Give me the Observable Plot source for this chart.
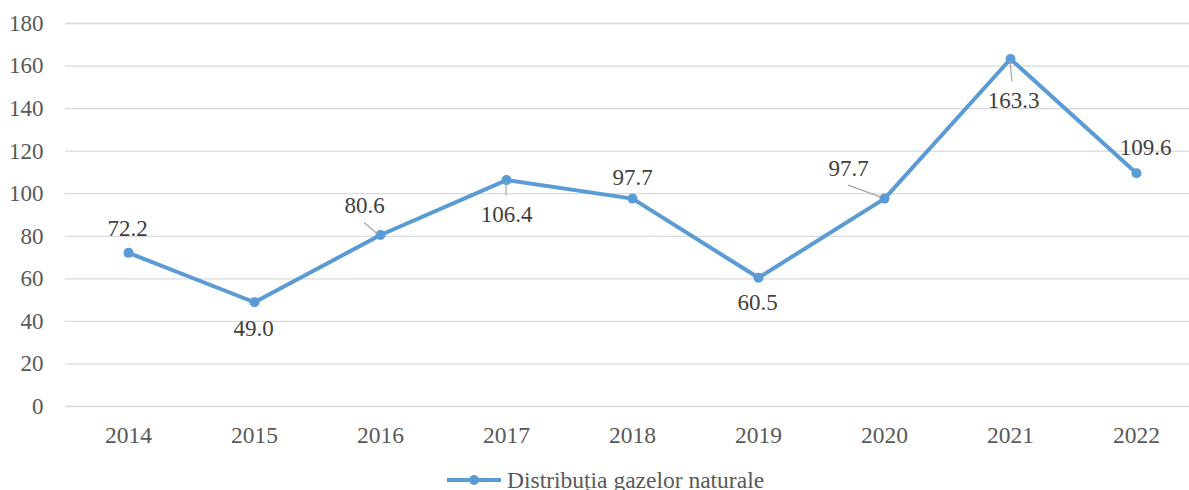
<!DOCTYPE html>
<html>
<head>
<meta charset="utf-8">
<script src="https://cdn.jsdelivr.net/npm/d3@7"></script>
<script src="https://cdn.jsdelivr.net/npm/@observablehq/plot@0.6"></script>
<style>
  html, body { margin: 0; padding: 0; background: #fff; overflow: hidden; }
  #wrap { position: relative; width: 1189px; height: 490px; overflow: hidden;
          font-family: "Liberation Serif", "Times New Roman", serif; }
  #chart svg text { font-family: "Liberation Serif", "Times New Roman", serif; }
  #legend { position: absolute; left: 447px; top: 466px; height: 28px; display: flex;
            align-items: center; font-size: 23.5px; line-height: 28px; color: #595959; white-space: nowrap; }
  #legend svg { display: block; margin-right: 5px; }
</style>
</head>
<body>
<div id="wrap">
  <div id="chart"></div>
  <div id="legend"></div>
</div>
<script>
// ---- data ----
const years = ["2014", "2015", "2016", "2017", "2018", "2019", "2020", "2021", "2022"];
const values = [72.2, 49.0, 80.6, 106.4, 97.7, 60.5, 97.7, 163.3, 109.6];
const yTicks = [0, 20, 40, 60, 80, 100, 120, 140, 160, 180];
const seriesName = "Distribuția gazelor naturale";

// ---- layout (label placement, pixel offsets from each point) ----
const labelDx = [-1, -1, -16, 0, 0, -1, -36, 3, 9];
const labelDy = [-24, 26, -29, 35, -21, 25, -30, 42, -26];
const leaderIdx = [2, 3, 6, 7];
const leaderFrom = [[-16, -12], [0, 2], [-36, -13], [0, 2]];
const leaderTo = [[-3, -1], [0, 16], [-3, -1], [2, 23]];

const blue = "#5B9BD5";
const textColor = "#595959";
const font = "'Liberation Serif', 'Times New Roman', serif";

const data = years.map((year, i) => ({year, value: values[i]}));

const W = 1189, H = 455;
const plot = Plot.plot({
  width: W,
  height: H,
  marginLeft: 65,
  marginRight: -10,
  marginTop: 23,
  marginBottom: 49,
  style: {fontFamily: font, fontSize: "23.5px", color: textColor, background: "#fff"},
  x: {type: "point", domain: years, padding: 0.5, label: null},
  y: {domain: [0, 180], ticks: yTicks, label: null},
  marks: [
    Plot.gridY(yTicks, {stroke: "#d9d9d9", strokeOpacity: 1, strokeWidth: 1.3}),
    Plot.axisY(yTicks, {tickSize: 0, tickPadding: 22, fontSize: 23, fill: textColor, label: null}),
    Plot.axisX({tickSize: 0, tickPadding: 20, fontSize: 23.5, fill: textColor, label: null}),
    Plot.line(data, {x: "year", y: "value", stroke: blue, strokeWidth: 4}),
    Plot.dot(data, {x: "year", y: "value", r: 5, fill: blue}),
    ...data.map((d, i) => Plot.text([d], {
      x: "year", y: "value", text: (d) => d.value.toFixed(1),
      dx: labelDx[i], dy: labelDy[i], fontSize: 23, fill: "#404040"
    }))
  ]
});
document.getElementById("chart").appendChild(plot);

// leader lines positioned through the plot's own scales
const sx = plot.scale("x"), sy = plot.scale("y");
const g = d3.select(plot).append("g").attr("stroke", "#a6a6a6").attr("stroke-width", 1.2);
leaderIdx.forEach((i, k) => {
  const px = sx.apply(years[i]), py = sy.apply(values[i]);
  g.append("line")
    .attr("x1", px + leaderFrom[k][0]).attr("y1", py + leaderFrom[k][1])
    .attr("x2", px + leaderTo[k][0]).attr("y2", py + leaderTo[k][1]);
});

// legend
const lg = d3.select("#legend");
const ls = lg.append("svg").attr("width", 55).attr("height", 12);
ls.append("line").attr("x1", 0).attr("x2", 54).attr("y1", 6).attr("y2", 6)
  .attr("stroke", blue).attr("stroke-width", 4);
ls.append("circle").attr("cx", 27).attr("cy", 6).attr("r", 5).attr("fill", blue);
lg.append("span").text(seriesName);
</script>
</body>
</html>
